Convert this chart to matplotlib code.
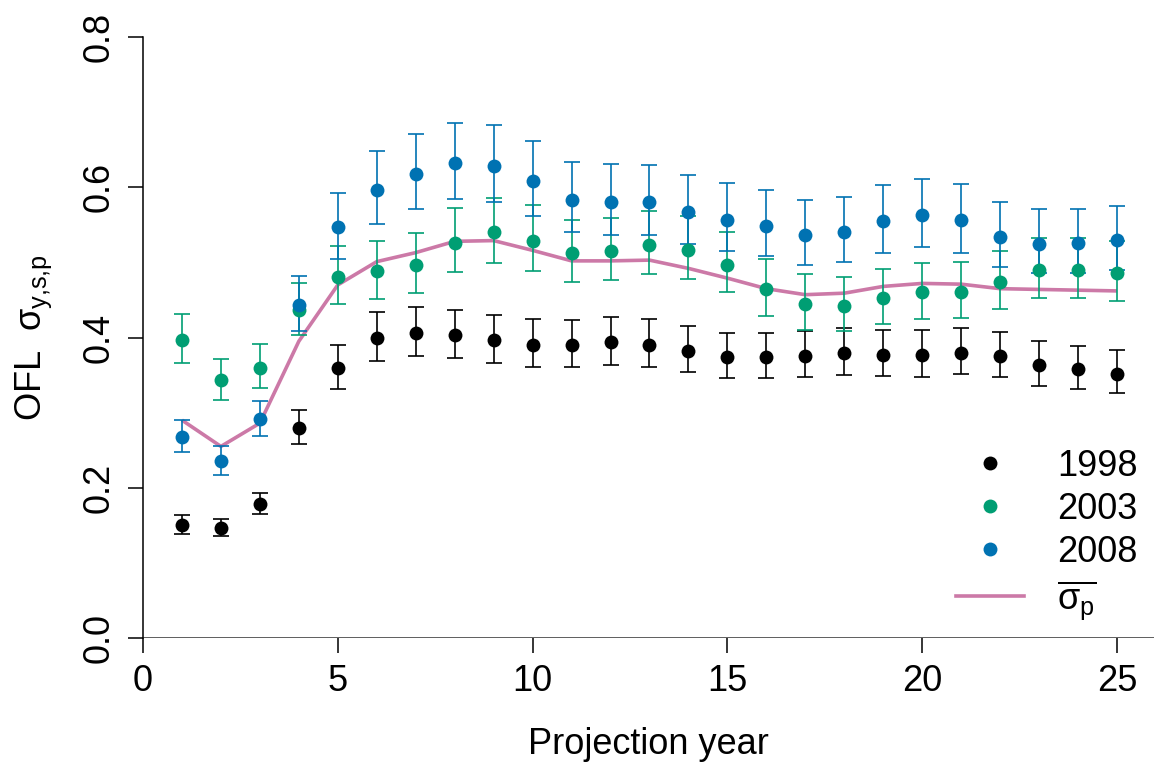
import matplotlib
matplotlib.use("Agg")
import matplotlib.pyplot as plt
from matplotlib.lines import Line2D

plt.rcParams["font.family"] = ["Liberation Sans", "DejaVu Sans"]
plt.rcParams["mathtext.fontset"] = "custom"
plt.rcParams["mathtext.rm"] = "Liberation Sans"
plt.rcParams["mathtext.it"] = "Liberation Sans"
plt.rcParams["mathtext.bf"] = "Liberation Sans:bold"

years = list(range(1, 26))

# 1998 assessment
mean_1998 = [0.150, 0.147, 0.178, 0.279, 0.360, 0.399, 0.406, 0.403, 0.397, 0.390,
             0.390, 0.394, 0.390, 0.382, 0.374, 0.374, 0.375, 0.379, 0.377, 0.377,
             0.379, 0.375, 0.364, 0.358, 0.352]
hi_1998 = [0.164, 0.159, 0.193, 0.303, 0.390, 0.434, 0.441, 0.437, 0.430, 0.424,
           0.423, 0.427, 0.424, 0.415, 0.406, 0.406, 0.409, 0.412, 0.410, 0.410,
           0.412, 0.407, 0.395, 0.389, 0.383]
lo_1998 = [0.139, 0.136, 0.165, 0.258, 0.332, 0.369, 0.376, 0.373, 0.366, 0.361,
           0.361, 0.363, 0.361, 0.354, 0.346, 0.346, 0.347, 0.350, 0.349, 0.348,
           0.351, 0.347, 0.336, 0.331, 0.326]

# 2003 assessment
mean_2003 = [0.397, 0.343, 0.360, 0.436, 0.481, 0.488, 0.496, 0.526, 0.540, 0.529,
             0.512, 0.515, 0.523, 0.516, 0.497, 0.464, 0.445, 0.442, 0.452, 0.460,
             0.461, 0.474, 0.490, 0.490, 0.486]
hi_2003 = [0.431, 0.372, 0.391, 0.473, 0.522, 0.529, 0.539, 0.572, 0.586, 0.576,
           0.557, 0.559, 0.568, 0.562, 0.540, 0.505, 0.484, 0.480, 0.491, 0.499,
           0.501, 0.515, 0.532, 0.532, 0.528]
lo_2003 = [0.366, 0.317, 0.333, 0.403, 0.445, 0.451, 0.459, 0.487, 0.499, 0.489,
           0.474, 0.476, 0.484, 0.478, 0.460, 0.429, 0.410, 0.409, 0.418, 0.425,
           0.426, 0.438, 0.452, 0.453, 0.449]

# 2008 assessment
mean_2008 = [0.268, 0.235, 0.291, 0.443, 0.547, 0.596, 0.617, 0.632, 0.628, 0.608,
             0.583, 0.580, 0.580, 0.567, 0.556, 0.549, 0.536, 0.540, 0.555, 0.563,
             0.556, 0.534, 0.525, 0.526, 0.530]
hi_2008 = [0.290, 0.255, 0.315, 0.482, 0.593, 0.648, 0.671, 0.686, 0.683, 0.661,
           0.634, 0.631, 0.630, 0.616, 0.605, 0.596, 0.583, 0.587, 0.603, 0.611,
           0.604, 0.580, 0.571, 0.571, 0.575]
lo_2008 = [0.248, 0.217, 0.269, 0.409, 0.505, 0.551, 0.571, 0.585, 0.581, 0.562,
           0.540, 0.537, 0.536, 0.524, 0.515, 0.508, 0.496, 0.500, 0.513, 0.520,
           0.513, 0.494, 0.486, 0.486, 0.490]

# average sigma across assessments
sigma_p = [0.290, 0.255, 0.286, 0.395, 0.470, 0.501, 0.513, 0.528, 0.529, 0.516,
           0.502, 0.502, 0.503, 0.492, 0.479, 0.465, 0.457, 0.459, 0.468, 0.472,
           0.471, 0.465, 0.464, 0.463, 0.462]

series = [
    ("1998", mean_1998, lo_1998, hi_1998, "#000000"),
    ("2003", mean_2003, lo_2003, hi_2003, "#009E73"),
    ("2008", mean_2008, lo_2008, hi_2008, "#0072B2"),
]
line_color = "#CC79A7"
FS = 26
MS = 10

fig = plt.figure(figsize=(11.54, 7.62), dpi=100)
W, H = 1154, 762
x0_px, x25_px = 143, 1117
y0_px, y08_px = 638, 37
ax = fig.add_axes([x0_px / W, 1 - y0_px / H, 1 - x0_px / W, (y0_px - y08_px) / H])
ax.set_xlim(0, 25 * (W - x0_px) / (x25_px - x0_px))
ax.set_ylim(0, 0.8)

ax.plot(years, sigma_p, color=line_color, lw=2.6, zorder=2, solid_capstyle="butt")

for name, m, lo, hi, col in series:
    yerr = [[mi - l for mi, l in zip(m, lo)], [h - mi for mi, h in zip(m, hi)]]
    ax.errorbar(years, m, yerr=yerr, fmt="none", ecolor=col, elinewidth=1.2,
                capsize=6, capthick=1.2, zorder=3, clip_on=False)
    ax.plot(years, m, ls="none", marker="o", color=col, markersize=MS,
            markeredgewidth=0, zorder=4, clip_on=False)

ax.axhline(0, color="#333333", lw=1.1, zorder=1)

for s in ["top", "right", "bottom"]:
    ax.spines[s].set_visible(False)
ax.spines["left"].set_bounds(0, 0.8)
ax.spines["left"].set_linewidth(1.1)

ax.set_xticks([0, 5, 10, 15, 20, 25])
ax.set_yticks([0.0, 0.2, 0.4, 0.6, 0.8])
ax.set_yticklabels(["0.0", "0.2", "0.4", "0.6", "0.8"])
ax.tick_params(axis="both", labelsize=FS, length=11, width=1.1, direction="out", pad=8)
for lab in ax.get_yticklabels():
    lab.set_rotation(90)
    lab.set_va("center")

ax.set_xlabel("Projection year", fontsize=FS, labelpad=20)
ax.set_ylabel(r"OFL  $\sigma_{y{,}s{,}p}$", fontsize=FS, labelpad=20)

handles = [Line2D([], [], ls="none", marker="o", color=c, markersize=MS, markeredgewidth=0)
           for _, _, _, _, c in series]
handles.append(Line2D([], [], color=line_color, lw=2.6))
labels = [s[0] for s in series] + [r"$\overline{\sigma_p}$"]
ax.legend(handles, labels, loc="lower right", bbox_to_anchor=(1.005, -0.009),
          frameon=False, fontsize=FS, handlelength=1.9, handletextpad=0.9,
          labelspacing=0.22, borderaxespad=0.2)

fig.savefig("out.png", dpi=100)
